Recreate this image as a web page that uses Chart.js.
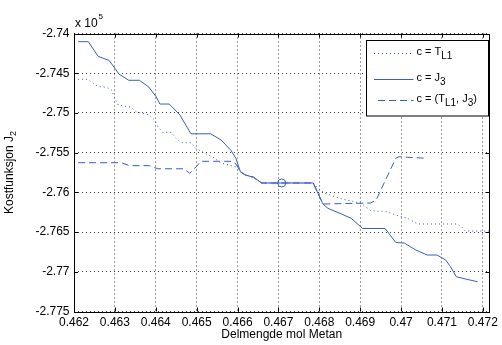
<!DOCTYPE html>
<html>
<head>
<meta charset="utf-8">
<script src="https://cdn.jsdelivr.net/npm/chart.js@4/dist/chart.umd.min.js"></script>
<style>
  html, body { margin: 0; padding: 0; background: #fff; }
  #wrap { width: 502px; height: 345px; }
</style>
</head>
<body>
<div id="wrap"><canvas id="myChart"></canvas></div>
<script>
// cost values are in units of 1e5
var tlX = [0.46210, 0.46235, 0.46247, 0.46259, 0.46279, 0.46292, 0.46300, 0.46308, 0.46340, 0.46352,
           0.46384, 0.46397, 0.46405, 0.46417, 0.46437, 0.46461, 0.46486, 0.46498, 0.46518, 0.46542,
           0.46559, 0.46579, 0.46596, 0.46607, 0.46619, 0.46639, 0.46659, 0.46785, 0.46797, 0.46813,
           0.46850, 0.46902, 0.46926, 0.46963, 0.46995, 0.47016, 0.47040, 0.47137, 0.47149, 0.47157, 0.47216];
var tlY = [-2.74577, -2.74577, -2.74627, -2.74667, -2.74677, -2.74711, -2.74816, -2.74900, -2.74929, -2.74985,
           -2.75026, -2.75089, -2.75173, -2.75244, -2.75244, -2.75375, -2.75375, -2.75445, -2.75501, -2.75564,
           -2.75630, -2.75656, -2.75681, -2.75740, -2.75781, -2.75810, -2.75882, -2.75882, -2.75949, -2.76012,
           -2.76075, -2.76138, -2.76231, -2.76241, -2.76298, -2.76327, -2.76398, -2.76398, -2.76440, -2.76487, -2.76487];

var j3X = [0.46210, 0.46235, 0.46259, 0.46286, 0.46310, 0.46334, 0.46360, 0.46383, 0.46401, 0.46410,
           0.46433, 0.46459, 0.46486, 0.46534, 0.46560, 0.46584, 0.46596, 0.46607, 0.46619, 0.46639,
           0.46659, 0.46785, 0.46809, 0.46821, 0.46854, 0.46878, 0.46906, 0.46961, 0.46987, 0.47008,
           0.47036, 0.47064, 0.47088, 0.47109, 0.47121, 0.47135, 0.47161, 0.47187];
var j3Y = [-2.74103, -2.74103, -2.74287, -2.74340, -2.74510, -2.74589, -2.74589, -2.74674, -2.74796, -2.74888,
           -2.74888, -2.75026, -2.75263, -2.75263, -2.75341, -2.75473, -2.75571, -2.75740, -2.75781, -2.75810,
           -2.75882, -2.75882, -2.76147, -2.76201, -2.76272, -2.76327, -2.76455, -2.76455, -2.76631, -2.76638,
           -2.76726, -2.76789, -2.76789, -2.76852, -2.76936, -2.77062, -2.77095, -2.77125];

var bothX = [0.46210, 0.46316, 0.46336, 0.46384, 0.46405, 0.46469, 0.46483, 0.46500, 0.46510, 0.46587,
             0.46596, 0.46607, 0.46619, 0.46639, 0.46659, 0.46785, 0.46809, 0.46926, 0.46939, 0.46987,
             0.46995, 0.47016, 0.47064];
var bothY = [-2.75627, -2.75627, -2.75664, -2.75664, -2.75703, -2.75703, -2.75760, -2.75672, -2.75609, -2.75609,
             -2.75643, -2.75740, -2.75781, -2.75810, -2.75882, -2.75882, -2.76147, -2.76134, -2.76096, -2.75571,
             -2.75551, -2.75559, -2.75571];

var markX = [0.46708];
var markY = [-2.75882];

var xTicks = [0.462, 0.463, 0.464, 0.465, 0.466, 0.467, 0.468, 0.469, 0.470, 0.471, 0.472];
var xTickLabels = ["0.462", "0.463", "0.464", "0.465", "0.466", "0.467", "0.468", "0.469", "0.47", "0.471", "0.472"];
var yTicks = [-2.74, -2.745, -2.75, -2.755, -2.76, -2.765, -2.77, -2.775];
var yTickLabels = ["-2.74", "-2.745", "-2.75", "-2.755", "-2.76", "-2.765", "-2.77", "-2.775"];

var blue = "#3b5cc2";
var font = "'Liberation Sans', Arial, sans-serif";

function pts(xs, ys) {
    var out = [];
    for (var i = 0; i < xs.length; i++) out.push({x: xs[i], y: ys[i]});
    return out;
}

// text with a lowered part, e.g. T with L1
function subText(ctx, x, y, parts) {
    for (var i = 0; i < parts.length; i++) {
        var p = parts[i];
        ctx.font = (p.sub ? "10px " : "11px ") + font;
        ctx.fillText(p.t, x, y + (p.sub ? 5 : 0));
        x += ctx.measureText(p.t).width;
    }
}

var decor = {
    id: "decor",
    afterDraw: function(chart) {
        var ctx = chart.ctx, a = chart.chartArea;
        var sx = chart.scales.x, sy = chart.scales.y;
        ctx.save();
        ctx.strokeStyle = "#000";
        ctx.lineWidth = 1;
        // axes box with inward ticks
        ctx.strokeRect(Math.round(a.left) + 0.5, Math.round(a.top) + 0.5,
                       Math.round(a.right - a.left), Math.round(a.bottom - a.top));
        ctx.beginPath();
        sx.ticks.forEach(function(t) {
            var px = Math.round(sx.getPixelForValue(t.value)) + 0.5;
            ctx.moveTo(px, a.bottom); ctx.lineTo(px, a.bottom - 4);
            ctx.moveTo(px, a.top); ctx.lineTo(px, a.top + 4);
        });
        sy.ticks.forEach(function(t) {
            var py = Math.round(sy.getPixelForValue(t.value)) + 0.5;
            ctx.moveTo(a.left, py); ctx.lineTo(a.left + 4, py);
            ctx.moveTo(a.right, py); ctx.lineTo(a.right - 4, py);
        });
        ctx.stroke();

        // exponent
        ctx.fillStyle = "#000";
        ctx.textBaseline = "middle";
        ctx.font = "12px " + font;
        ctx.fillText("x 10", 75, 24);
        ctx.font = "8px " + font;
        ctx.fillText("5", 98.5, 17);

        // y title
        ctx.save();
        ctx.translate(10, (a.top + a.bottom) / 2);
        ctx.rotate(-Math.PI / 2);
        ctx.font = "12px " + font;
        var w1 = ctx.measureText("Kostfunksjon J").width;
        ctx.font = "9px " + font;
        var w2 = ctx.measureText("2").width;
        var x0 = -(w1 + w2) / 2;
        ctx.font = "12px " + font;
        ctx.fillText("Kostfunksjon J", x0, 0);
        ctx.font = "9px " + font;
        ctx.fillText("2", x0 + w1, 4);
        ctx.restore();

        // legend
        ctx.fillStyle = "#fff";
        ctx.fillRect(366.5, 40.5, 122, 75.5);
        ctx.strokeStyle = "#000";
        ctx.strokeRect(366.5, 40.5, 122, 75.5);
        var rows = [
            {y: 53.5, dash: [1, 3], x1: 374, parts: [{t: "c = T"}, {t: "L1", sub: true}]},
            {y: 79.5, dash: [], x1: 374, parts: [{t: "c = J"}, {t: "3", sub: true}]},
            {y: 100.5, dash: [7, 4], x1: 378, parts: [{t: "c = (T"}, {t: "L1", sub: true}, {t: ", J"}, {t: "3", sub: true}, {t: ")"}]}
        ];
        rows.forEach(function(r) {
            ctx.strokeStyle = blue;
            ctx.setLineDash(r.dash);
            ctx.beginPath();
            ctx.moveTo(r.x1, r.y); ctx.lineTo(413.5, r.y);
            ctx.stroke();
            ctx.setLineDash([]);
            ctx.fillStyle = "#000";
            subText(ctx, 416.5, r.y - 2, r.parts);
        });
        ctx.restore();
    }
};

var chart = new Chart(document.getElementById("myChart"), {
    type: "scatter",
    data: {
        datasets: [
            {label: "c = T_L1", data: pts(tlX, tlY), showLine: true, borderColor: blue, borderWidth: 1,
             borderDash: [1, 3], pointRadius: 0, tension: 0, fill: false},
            {label: "c = J_3", data: pts(j3X, j3Y), showLine: true, borderColor: blue, borderWidth: 1,
             pointRadius: 0, tension: 0, fill: false},
            {label: "c = (T_L1, J_3)", data: pts(bothX, bothY), showLine: true, borderColor: blue, borderWidth: 1,
             borderDash: [7, 4], pointRadius: 0, tension: 0, fill: false},
            {label: "optimum", data: pts(markX, markY), showLine: false, pointStyle: "circle", pointRadius: 4,
             pointBorderColor: blue, pointBackgroundColor: "rgba(0,0,0,0)", pointBorderWidth: 1}
        ]
    },
    options: {
        responsive: true,
        maintainAspectRatio: false,
        animation: false,
        layout: {padding: {left: 0, top: 33.5, right: 8.7, bottom: 0}},
        plugins: {legend: {display: false}, tooltip: {enabled: false}},
        scales: {
            x: {
                type: "linear",
                min: 0.462,
                max: 0.47216,
                afterBuildTicks: function(scale) {
                    scale.ticks = xTicks.map(function(v) { return {value: v}; });
                },
                afterFit: function(scale) { scale.height = 33.5; },
                ticks: {
                    autoSkip: false,
                    maxRotation: 0,
                    padding: 4,
                    color: "#000",
                    font: {family: font, size: 12},
                    callback: function(value, index) { return xTickLabels[index]; }
                },
                grid: {color: "rgba(0,0,0,0.75)", drawTicks: false},
                border: {display: false, dash: [1, 3]},
                title: {display: true, text: "Delmengde mol Metan", color: "#000",
                        font: {family: font, size: 12}, padding: {top: 0, bottom: 3}}
            },
            y: {
                type: "linear",
                min: -2.775,
                max: -2.74,
                afterBuildTicks: function(scale) {
                    scale.ticks = yTicks.map(function(v) { return {value: v}; });
                },
                afterFit: function(scale) { scale.width = 74; },
                ticks: {
                    autoSkip: false,
                    padding: 4.5,
                    color: "#000",
                    font: {family: font, size: 12},
                    callback: function(value, index) { return yTickLabels[index]; }
                },
                grid: {color: "rgba(0,0,0,0.75)", drawTicks: false},
                border: {display: false, dash: [1, 3]}
            }
        }
    },
    plugins: [decor]
});
</script>
</body>
</html>
